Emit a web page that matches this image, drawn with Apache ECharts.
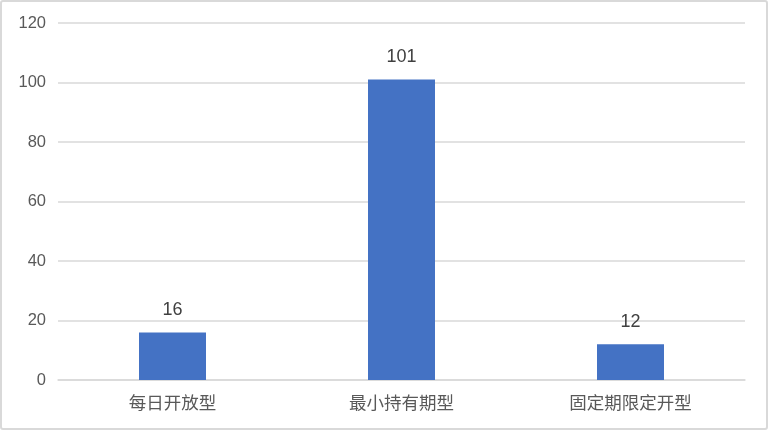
<!DOCTYPE html>
<html>
<head>
<meta charset="utf-8">
<script src="https://cdn.jsdelivr.net/npm/echarts@6/dist/echarts.min.js"></script>
<style>
  html, body { margin: 0; padding: 0; background: #fff; }
  #chart { width: 764px; height: 426px; border: 2px solid #d9d9d9; border-radius: 3px; }
</style>
</head>
<body>
<div id="chart"></div>
<script>
// 各类型产品数量
const categories = ['每日开放型', '最小持有期型', '固定期限定开型'];
const counts = [16, 101, 12];
const yTicks = { min: 0, max: 120, interval: 20 };

const chart = echarts.init(document.getElementById('chart'));
chart.setOption({
  animation: false,
  grid: { left: 56, right: 21, top: 21, bottom: 48 },
  xAxis: {
    type: 'category', data: categories,
    axisLine: { lineStyle: { color: '#d9d9d9', width: 1.5 } },
    axisTick: { show: false },
    axisLabel: { fontSize: 17.5, color: '#595959', margin: 14,
      fontFamily: '"Noto Sans CJK SC", sans-serif' }
  },
  yAxis: {
    type: 'value', min: yTicks.min, max: yTicks.max, interval: yTicks.interval,
    axisLine: { show: false }, axisTick: { show: false },
    axisLabel: { fontSize: 16.5, color: '#595959', margin: 12, fontFamily: 'Helvetica, Arial, "Liberation Sans", sans-serif' },
    splitLine: { lineStyle: { color: '#d9d9d9', width: 1.5 } }
  },
  series: [{
    type: 'bar', data: counts, barWidth: 67,
    itemStyle: { color: '#4472C4' },
    label: { show: true, position: 'top', distance: 13, fontSize: 18, color: '#404040',
      fontFamily: 'Helvetica, Arial, "Liberation Sans", sans-serif' }
  }]
});
</script>
</body>
</html>
